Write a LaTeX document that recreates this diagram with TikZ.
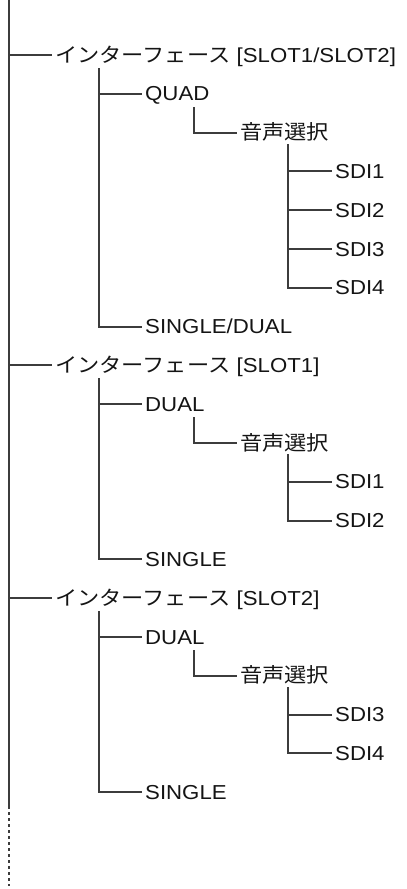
\documentclass[tikz,border=0pt]{standalone}
\usepackage{fontspec}
\setmainfont{Liberation Sans}
\newfontfamily\jp{Noto Sans CJK JP}
\definecolor{ln}{HTML}{3C3C3C}
\definecolor{tx}{HTML}{141414}
\newcommand\sx[1]{\scalebox{1.1}[1]{#1}}
\tikzset{
  lbl/.style={anchor=west, inner xsep=3pt, inner ysep=0pt, text height=14pt, text depth=0pt,
    font=\fontsize{20.2}{22}\selectfont, text=tx},
  conn/.style={draw=ln, line width=2pt},
  dashconn/.style={conn, dash pattern=on 3pt off 3pt},
}
\begin{document}
\begin{tikzpicture}[x=1pt, y=-1pt]
\useasboundingbox (0,0) rectangle (407,889);
% ---- rows: 55 + 38.8 k
% block 1
\node[lbl] (i1) at (52,55) {\sx{{\jp インターフェース} [SLOT1/SLOT2]}};
\node[lbl] (quad) at (142,93.8) {\sx{QUAD}};
\node[lbl] (on1) at (237,132.6) {\sx{\jp 音声選択}};
\node[lbl] (s1a) at (332,171.4) {\sx{SDI1}};
\node[lbl] (s2a) at (332,210.2) {\sx{SDI2}};
\node[lbl] (s3a) at (332,249.0) {\sx{SDI3}};
\node[lbl] (s4a) at (332,287.8) {\sx{SDI4}};
\node[lbl] (sd) at (142,326.6) {\sx{SINGLE/DUAL}};
% block 2
\node[lbl] (i2) at (52,365.4) {\sx{{\jp インターフェース} [SLOT1]}};
\node[lbl] (dual2) at (142,404.2) {\sx{DUAL}};
\node[lbl] (on2) at (237,443.0) {\sx{\jp 音声選択}};
\node[lbl] (s1b) at (332,481.8) {\sx{SDI1}};
\node[lbl] (s2b) at (332,520.6) {\sx{SDI2}};
\node[lbl] (sing2) at (142,559.4) {\sx{SINGLE}};
% block 3
\node[lbl] (i3) at (52,598.2) {\sx{{\jp インターフェース} [SLOT2]}};
\node[lbl] (dual3) at (142,637.0) {\sx{DUAL}};
\node[lbl] (on3) at (237,675.8) {\sx{\jp 音声選択}};
\node[lbl] (s3c) at (332,714.6) {\sx{SDI3}};
\node[lbl] (s4c) at (332,753.4) {\sx{SDI4}};
\node[lbl] (sing3) at (142,792.2) {\sx{SINGLE}};
% ---- main trunk
\coordinate (top) at (9,0);
\coordinate (solidend) at (9,806);
\coordinate (bot) at (9,886);
\draw[conn] (top) -- (solidend);
\draw[dashconn] (solidend) -- (bot);
\foreach \n in {i1,i2,i3} \draw[conn] (top |- \n.west) -- (\n.west);
% ---- block 1 connectors
\coordinate (a1) at (99,68);
\draw[conn] (a1) |- (sd.west);
\draw[conn] (a1 |- quad.west) -- (quad.west);
\coordinate (b1) at (194,107);
\draw[conn] (b1) |- (on1.west);
\coordinate (c1) at (288,144);
\draw[conn] (c1) |- (s4a.west);
\foreach \n in {s1a,s2a,s3a} \draw[conn] (c1 |- \n.west) -- (\n.west);
% ---- block 2 connectors
\coordinate (a2) at (99,378.4);
\draw[conn] (a2) |- (sing2.west);
\draw[conn] (a2 |- dual2.west) -- (dual2.west);
\coordinate (b2) at (194,417.2);
\draw[conn] (b2) |- (on2.west);
\coordinate (c2) at (288,454.4);
\draw[conn] (c2) |- (s2b.west);
\draw[conn] (c2 |- s1b.west) -- (s1b.west);
% ---- block 3 connectors
\coordinate (a3) at (99,611.2);
\draw[conn] (a3) |- (sing3.west);
\draw[conn] (a3 |- dual3.west) -- (dual3.west);
\coordinate (b3) at (194,650.0);
\draw[conn] (b3) |- (on3.west);
\coordinate (c3) at (288,687.2);
\draw[conn] (c3) |- (s4c.west);
\draw[conn] (c3 |- s3c.west) -- (s3c.west);
\end{tikzpicture}
\end{document}
